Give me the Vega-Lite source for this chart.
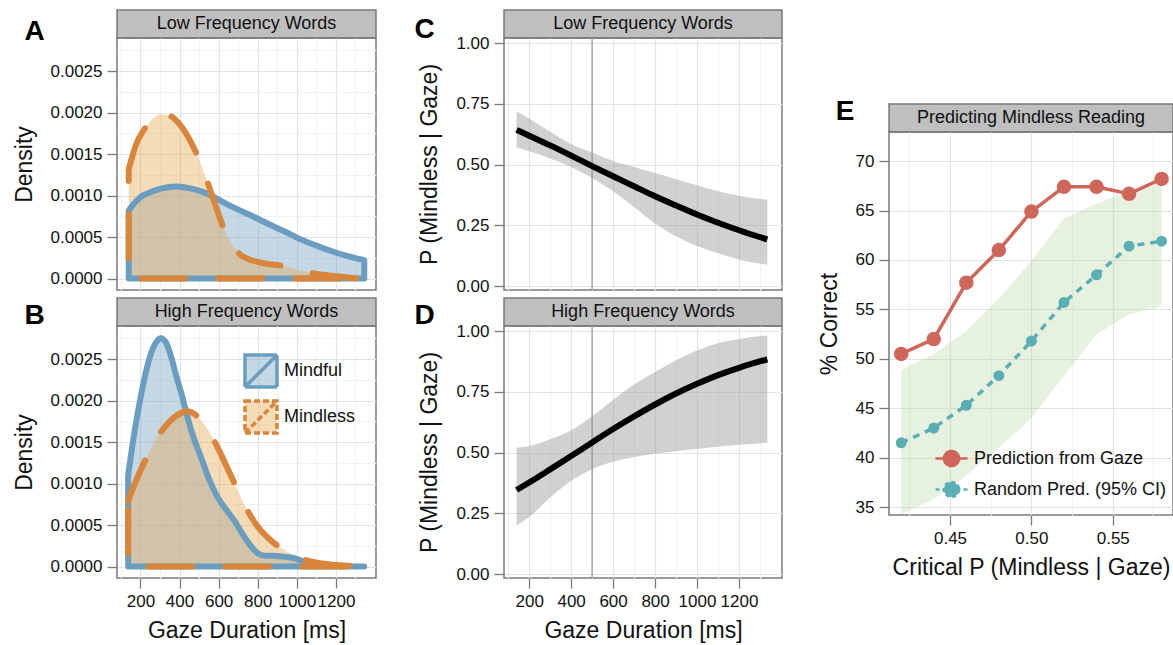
{
  "$schema": "https://vega.github.io/schema/vega-lite/v6.json",
  "padding": {"left": 12, "top": 9, "right": 0, "bottom": 0},
  "config": {
    "font": "Liberation Sans",
    "view": {"stroke": "#7a7a7a", "strokeWidth": 1.5},
    "axis": {"domain": false, "labelFontSize": 17, "labelColor": "#111", "titleFontSize": 23, "titleFontWeight": "normal", "titleColor": "#111", "tickColor": "#7a7a7a", "tickSize": 10, "tickWidth": 1.3, "labelPadding": 5, "titlePadding": 14, "gridWidth": 1.2, "labelFlush": false, "labelOverlap": false},
    "axisX": {"titlePadding": 10},
    "title": {"fontSize": 28, "fontWeight": "bold", "color": "#000"}
  },
  "datasets": {
    "densLow": [
      {"g":"Mindful","x":140,"d":0.00082},{"g":"Mindful","x":170,"d":0.00091},{"g":"Mindful","x":200,"d":0.00098},{"g":"Mindful","x":250,"d":0.00104},{"g":"Mindful","x":300,"d":0.00108},{"g":"Mindful","x":340,"d":0.0011},{"g":"Mindful","x":384,"d":0.00111},{"g":"Mindful","x":450,"d":0.00109},{"g":"Mindful","x":511,"d":0.00105},{"g":"Mindful","x":578,"d":0.00098},{"g":"Mindful","x":640,"d":0.0009},{"g":"Mindful","x":700,"d":0.00083},{"g":"Mindful","x":766,"d":0.00076},{"g":"Mindful","x":852,"d":0.00066},{"g":"Mindful","x":936,"d":0.00057},{"g":"Mindful","x":1021,"d":0.00047},{"g":"Mindful","x":1108,"d":0.00039},{"g":"Mindful","x":1190,"d":0.00032},{"g":"Mindful","x":1276,"d":0.00026},{"g":"Mindful","x":1345,"d":0.00022},
      {"g":"Mindless","x":140,"d":0.00132},{"g":"Mindless","x":180,"d":0.00163},{"g":"Mindless","x":220,"d":0.0018},{"g":"Mindless","x":260,"d":0.00192},{"g":"Mindless","x":305,"d":0.00198},{"g":"Mindless","x":350,"d":0.00196},{"g":"Mindless","x":400,"d":0.00186},{"g":"Mindless","x":450,"d":0.00168},{"g":"Mindless","x":495,"d":0.00146},{"g":"Mindless","x":546,"d":0.00114},{"g":"Mindless","x":590,"d":0.00084},{"g":"Mindless","x":630,"d":0.00058},{"g":"Mindless","x":670,"d":0.0004},{"g":"Mindless","x":715,"d":0.00028},{"g":"Mindless","x":770,"d":0.00022},{"g":"Mindless","x":817,"d":0.00019},{"g":"Mindless","x":870,"d":0.00017},{"g":"Mindless","x":936,"d":0.00015},{"g":"Mindless","x":1000,"d":0.00011},{"g":"Mindless","x":1090,"d":0.00006},{"g":"Mindless","x":1190,"d":0.00003},{"g":"Mindless","x":1270,"d":0.00001},{"g":"Mindless","x":1345,"d":0}
    ],
    "densHigh": [
      {"g":"Mindful","x":137,"d":0.0011},{"g":"Mindful","x":160,"d":0.00148},{"g":"Mindful","x":190,"d":0.0019},{"g":"Mindful","x":220,"d":0.00226},{"g":"Mindful","x":250,"d":0.00254},{"g":"Mindful","x":280,"d":0.0027},{"g":"Mindful","x":304,"d":0.00275},{"g":"Mindful","x":330,"d":0.0027},{"g":"Mindful","x":358,"d":0.00252},{"g":"Mindful","x":385,"d":0.00228},{"g":"Mindful","x":409,"d":0.00209},{"g":"Mindful","x":443,"d":0.00178},{"g":"Mindful","x":475,"d":0.00153},{"g":"Mindful","x":511,"d":0.00131},{"g":"Mindful","x":550,"d":0.00106},{"g":"Mindful","x":596,"d":0.00083},{"g":"Mindful","x":640,"d":0.00068},{"g":"Mindful","x":681,"d":0.00055},{"g":"Mindful","x":720,"d":0.0004},{"g":"Mindful","x":760,"d":0.00026},{"g":"Mindful","x":800,"d":0.00016},{"g":"Mindful","x":840,"d":0.00013},{"g":"Mindful","x":880,"d":0.00013},{"g":"Mindful","x":930,"d":0.00012},{"g":"Mindful","x":987,"d":0.0001},{"g":"Mindful","x":1040,"d":0.00006},{"g":"Mindful","x":1106,"d":0.00003},{"g":"Mindful","x":1200,"d":0.00001},{"g":"Mindful","x":1345,"d":0},
      {"g":"Mindless","x":137,"d":0.00079},{"g":"Mindless","x":180,"d":0.00105},{"g":"Mindless","x":239,"d":0.00135},{"g":"Mindless","x":270,"d":0.0015},{"g":"Mindless","x":307,"d":0.00163},{"g":"Mindless","x":350,"d":0.00175},{"g":"Mindless","x":392,"d":0.00183},{"g":"Mindless","x":443,"d":0.00187},{"g":"Mindless","x":480,"d":0.00183},{"g":"Mindless","x":511,"d":0.00176},{"g":"Mindless","x":550,"d":0.00163},{"g":"Mindless","x":596,"d":0.00143},{"g":"Mindless","x":640,"d":0.00121},{"g":"Mindless","x":681,"d":0.001},{"g":"Mindless","x":720,"d":0.0008},{"g":"Mindless","x":766,"d":0.0006},{"g":"Mindless","x":810,"d":0.00045},{"g":"Mindless","x":851,"d":0.00035},{"g":"Mindless","x":890,"d":0.00027},{"g":"Mindless","x":936,"d":0.0002},{"g":"Mindless","x":1000,"d":0.00012},{"g":"Mindless","x":1055,"d":0.00007},{"g":"Mindless","x":1120,"d":0.00004},{"g":"Mindless","x":1191,"d":0.00002},{"g":"Mindless","x":1260,"d":0.00001},{"g":"Mindless","x":1345,"d":0}
    ],
    "probLow": [
      {"x":140,"p":0.643,"lo":0.57,"hi":0.72},{"x":200,"p":0.619,"lo":0.555,"hi":0.69},{"x":300,"p":0.579,"lo":0.525,"hi":0.635},{"x":400,"p":0.537,"lo":0.49,"hi":0.585},{"x":500,"p":0.494,"lo":0.445,"hi":0.55},{"x":600,"p":0.452,"lo":0.39,"hi":0.515},{"x":700,"p":0.411,"lo":0.325,"hi":0.49},{"x":800,"p":0.37,"lo":0.258,"hi":0.465},{"x":900,"p":0.332,"lo":0.205,"hi":0.44},{"x":1000,"p":0.295,"lo":0.165,"hi":0.415},{"x":1100,"p":0.261,"lo":0.135,"hi":0.39},{"x":1200,"p":0.23,"lo":0.11,"hi":0.372},{"x":1335,"p":0.192,"lo":0.088,"hi":0.355}
    ],
    "probHigh": [
      {"x":140,"p":0.346,"lo":0.2,"hi":0.52},{"x":200,"p":0.377,"lo":0.235,"hi":0.527},{"x":300,"p":0.431,"lo":0.315,"hi":0.555},{"x":400,"p":0.486,"lo":0.384,"hi":0.592},{"x":500,"p":0.542,"lo":0.432,"hi":0.65},{"x":600,"p":0.597,"lo":0.462,"hi":0.717},{"x":700,"p":0.649,"lo":0.482,"hi":0.78},{"x":800,"p":0.698,"lo":0.495,"hi":0.832},{"x":900,"p":0.743,"lo":0.506,"hi":0.88},{"x":1000,"p":0.783,"lo":0.515,"hi":0.92},{"x":1100,"p":0.819,"lo":0.524,"hi":0.95},{"x":1200,"p":0.849,"lo":0.532,"hi":0.968},{"x":1335,"p":0.884,"lo":0.541,"hi":0.982}
    ],
    "vline": [{"x": 500}],
    "bandE": [
      {"crit":0.42,"lo":34.3,"hi":48.9},{"crit":0.44,"lo":35.8,"hi":50.5},{"crit":0.46,"lo":38.2,"hi":52.8},{"crit":0.48,"lo":41.0,"hi":56.1},{"crit":0.5,"lo":44.0,"hi":59.9},{"crit":0.52,"lo":48.3,"hi":64.2},{"crit":0.54,"lo":52.5,"hi":65.7},{"crit":0.56,"lo":54.5,"hi":67.0},{"crit":0.58,"lo":55.3,"hi":67.7}
    ],
    "predE": [
      {"crit":0.42,"series":"Prediction from Gaze","pct":50.5},{"crit":0.44,"series":"Prediction from Gaze","pct":52.0},{"crit":0.46,"series":"Prediction from Gaze","pct":57.7},{"crit":0.48,"series":"Prediction from Gaze","pct":61.0},{"crit":0.5,"series":"Prediction from Gaze","pct":64.9},{"crit":0.52,"series":"Prediction from Gaze","pct":67.4},{"crit":0.54,"series":"Prediction from Gaze","pct":67.4},{"crit":0.56,"series":"Prediction from Gaze","pct":66.7},{"crit":0.58,"series":"Prediction from Gaze","pct":68.2},
      {"crit":0.42,"series":"Random Pred. (95% CI)","pct":41.5},{"crit":0.44,"series":"Random Pred. (95% CI)","pct":43.0},{"crit":0.46,"series":"Random Pred. (95% CI)","pct":45.3},{"crit":0.48,"series":"Random Pred. (95% CI)","pct":48.3},{"crit":0.5,"series":"Random Pred. (95% CI)","pct":51.8},{"crit":0.52,"series":"Random Pred. (95% CI)","pct":55.7},{"crit":0.54,"series":"Random Pred. (95% CI)","pct":58.5},{"crit":0.56,"series":"Random Pred. (95% CI)","pct":61.4},{"crit":0.58,"series":"Random Pred. (95% CI)","pct":61.9}
    ],
    "stripLow": [{"label": "Low Frequency Words"}],
    "stripHigh": [{"label": "High Frequency Words"}],
    "stripE": [{"label": "Predicting Mindless Reading"}],
    "blank": [{"label": ""}]
  },
  "resolve": {"scale": {"fill": "independent", "color": "independent"}, "legend": {"fill": "independent", "color": "independent"}},
  "spacing": 34,
  "bounds": "full",
  "hconcat": [
    {
      "spacing": 36,
      "bounds": "full",
      "resolve": {"scale": {"fill": "independent"}, "legend": {"fill": "independent"}},
      "hconcat": [
        {
          "vconcat": [
            {"width": 259, "height": 28, "data": {"name": "stripLow"}, "mark": {"type": "text", "fontSize": 18, "color": "#111"}, "encoding": {"text": {"field": "label"}}, "view": {"fill": "#bfbfbf", "stroke": "#7a7a7a", "strokeWidth": 1.5},
             "title": {"text": "A", "orient": "left", "angle": 0, "align": "right", "baseline": "alphabetic", "anchor": "middle", "offset": 52, "dy": 16}},
            {"width": 259, "height": 252, "data": {"name": "densLow"},
             "encoding": {
               "x": {"field": "x", "type": "quantitative", "scale": {"domain": [80, 1405], "nice": false, "zero": false},
                     "axis": {"values": [100,200,300,400,500,600,700,800,900,1000,1100,1200,1300], "labels": false, "ticks": false, "title": null,
                              "gridColor": {"condition": {"test": "datum.value % 200 === 0", "value": "#e3e3e3"}, "value": "#f2f2f2"}}},
               "y": {"field": "d", "type": "quantitative", "stack": null, "scale": {"domain": [-0.000138, 0.002898], "nice": false, "zero": false},
                     "axis": {"values": [0,0.00025,0.0005,0.00075,0.001,0.00125,0.0015,0.00175,0.002,0.00225,0.0025,0.00275], "format": ".4f", "title": "Density",
                              "labelExpr": "round(datum.value*20000) % 10 === 0 ? datum.label : ''",
                              "tickOpacity": {"condition": {"test": "round(datum.value*20000) % 10 === 0", "value": 1}, "value": 0},
                              "gridColor": {"condition": {"test": "round(datum.value*20000) % 10 === 0", "value": "#e3e3e3"}, "value": "#f2f2f2"}}},
               "y2": {"datum": 0}
             },
             "layer": [
               {"mark": {"type": "area", "interpolate": "monotone", "fillOpacity": 0.4, "strokeWidth": 0},
                "encoding": {"fill": {"field": "g", "type": "nominal", "scale": {"domain": ["Mindful", "Mindless"], "range": ["#6b9dc0", "#e6a74d"]}, "legend": null}}},
               {"transform": [{"filter": "datum.g === 'Mindful'"}],
                "mark": {"type": "area", "interpolate": "monotone", "fill": "#ffffff", "fillOpacity": 0, "stroke": "#6b9dc0", "strokeWidth": 6, "strokeCap": "round", "strokeJoin": "round"}},
               {"transform": [{"filter": "datum.g === 'Mindless'"}],
                "mark": {"type": "area", "interpolate": "monotone", "fill": "#ffffff", "fillOpacity": 0, "stroke": "#d9853b", "strokeWidth": 6, "strokeCap": "round", "strokeJoin": "round", "strokeDash": [44, 33]}}
             ]},
            {"width": 259, "height": 8, "data": {"name": "blank"}, "mark": {"type": "text"}, "encoding": {"text": {"field": "label"}}, "view": {"stroke": null}},
            {"width": 259, "height": 28, "data": {"name": "stripHigh"}, "mark": {"type": "text", "fontSize": 18, "color": "#111"}, "encoding": {"text": {"field": "label"}}, "view": {"fill": "#bfbfbf", "stroke": "#7a7a7a", "strokeWidth": 1.5},
             "title": {"text": "B", "orient": "left", "angle": 0, "align": "right", "baseline": "alphabetic", "anchor": "middle", "offset": 52, "dy": 12}},
            {"width": 259, "height": 252, "data": {"name": "densHigh"},
             "encoding": {
               "x": {"field": "x", "type": "quantitative", "scale": {"domain": [80, 1405], "nice": false, "zero": false},
                     "axis": {"values": [100,200,300,400,500,600,700,800,900,1000,1100,1200,1300], "format": "d", "title": "Gaze Duration [ms]",
                              "labelExpr": "datum.value % 200 === 0 ? datum.label : ''",
                              "tickOpacity": {"condition": {"test": "datum.value % 200 === 0", "value": 1}, "value": 0},
                              "gridColor": {"condition": {"test": "datum.value % 200 === 0", "value": "#e3e3e3"}, "value": "#f2f2f2"}}},
               "y": {"field": "d", "type": "quantitative", "stack": null, "scale": {"domain": [-0.000138, 0.002898], "nice": false, "zero": false},
                     "axis": {"values": [0,0.00025,0.0005,0.00075,0.001,0.00125,0.0015,0.00175,0.002,0.00225,0.0025,0.00275], "format": ".4f", "title": "Density",
                              "labelExpr": "round(datum.value*20000) % 10 === 0 ? datum.label : ''",
                              "tickOpacity": {"condition": {"test": "round(datum.value*20000) % 10 === 0", "value": 1}, "value": 0},
                              "gridColor": {"condition": {"test": "round(datum.value*20000) % 10 === 0", "value": "#e3e3e3"}, "value": "#f2f2f2"}}},
               "y2": {"datum": 0}
             },
             "layer": [
               {"mark": {"type": "area", "interpolate": "monotone", "fillOpacity": 0.4, "strokeWidth": 0},
                "encoding": {"fill": {"field": "g", "type": "nominal", "scale": {"domain": ["Mindful", "Mindless"], "range": ["#6b9dc0", "#e6a74d"]},
                        "legend": {"orient": "none", "legendX": 126, "legendY": 27, "title": null, "padding": 0,
                                   "symbolType": "M-1,-1H1V1H-1Z M-1,1L1,-1", "symbolSize": 1024, "symbolStrokeWidth": 3.5,
                                   "labelFontSize": 18, "labelColor": "#111", "labelOffset": 5, "rowPadding": 0,
                                   "encode": {"symbols": {"update": {"fillOpacity": {"value": 0.4}, "opacity": {"value": 1},
                                     "stroke": {"signal": "datum.value === 'Mindful' ? '#6b9dc0' : '#d9853b'"},
                                     "strokeDash": {"signal": "datum.value === 'Mindful' ? [1,0] : [6,3]"},
                                     "strokeWidth": {"value": 3.5}}}}}}}},
               {"transform": [{"filter": "datum.g === 'Mindful'"}],
                "mark": {"type": "area", "interpolate": "monotone", "fill": "#ffffff", "fillOpacity": 0, "stroke": "#6b9dc0", "strokeWidth": 6, "strokeCap": "round", "strokeJoin": "round"}},
               {"transform": [{"filter": "datum.g === 'Mindless'"}],
                "mark": {"type": "area", "interpolate": "monotone", "fill": "#ffffff", "fillOpacity": 0, "stroke": "#d9853b", "strokeWidth": 6, "strokeCap": "round", "strokeJoin": "round", "strokeDash": [44, 33]}}
             ]}
          ],
          "spacing": 0,
          "bounds": "flush",
          "resolve": {"scale": {"fill": "independent"}, "legend": {"fill": "independent"}}
        },
        {
          "vconcat": [
            {"width": 278, "height": 28, "data": {"name": "stripLow"}, "mark": {"type": "text", "fontSize": 18, "color": "#111"}, "encoding": {"text": {"field": "label"}}, "view": {"fill": "#bfbfbf", "stroke": "#7a7a7a", "strokeWidth": 1.5},
             "title": {"text": "C", "orient": "left", "angle": 0, "align": "right", "baseline": "alphabetic", "anchor": "middle", "offset": 49, "dy": 14}},
            {"width": 278, "height": 252,
             "encoding": {"x": {"field": "x", "type": "quantitative", "scale": {"domain": [80, 1405], "nice": false, "zero": false},
                     "axis": {"values": [100,200,300,400,500,600,700,800,900,1000,1100,1200,1300], "labels": false, "ticks": false, "title": null,
                              "gridColor": {"condition": {"test": "datum.value % 200 === 0", "value": "#e3e3e3"}, "value": "#f2f2f2"}}}},
             "layer": [
               {"data": {"name": "vline"}, "mark": {"type": "rule", "color": "#a3a3a3", "strokeWidth": 1.5}, "encoding": {}},
               {"data": {"name": "probLow"}, "mark": {"type": "area", "color": "#9a9a9a", "opacity": 0.45, "interpolate": "monotone"},
                "encoding": {
                  "y": {"field": "lo", "type": "quantitative", "scale": {"domain": [-0.016, 1.021], "nice": false, "zero": false},
                        "axis": {"values": [0,0.125,0.25,0.375,0.5,0.625,0.75,0.875,1], "format": ".2f", "title": "P (Mindless | Gaze)",
                                 "labelExpr": "round(datum.value*8) % 2 === 0 ? datum.label : ''",
                                 "tickOpacity": {"condition": {"test": "round(datum.value*8) % 2 === 0", "value": 1}, "value": 0},
                                 "gridColor": {"condition": {"test": "round(datum.value*8) % 2 === 0", "value": "#e3e3e3"}, "value": "#f2f2f2"}}},
                  "y2": {"field": "hi"}}},
               {"data": {"name": "probLow"}, "mark": {"type": "line", "color": "#000", "strokeWidth": 6, "interpolate": "monotone"},
                "encoding": {"y": {"field": "p", "type": "quantitative"}}}
             ]},
            {"width": 278, "height": 8, "data": {"name": "blank"}, "mark": {"type": "text"}, "encoding": {"text": {"field": "label"}}, "view": {"stroke": null}},
            {"width": 278, "height": 28, "data": {"name": "stripHigh"}, "mark": {"type": "text", "fontSize": 18, "color": "#111"}, "encoding": {"text": {"field": "label"}}, "view": {"fill": "#bfbfbf", "stroke": "#7a7a7a", "strokeWidth": 1.5},
             "title": {"text": "D", "orient": "left", "angle": 0, "align": "right", "baseline": "alphabetic", "anchor": "middle", "offset": 49, "dy": 12}},
            {"width": 278, "height": 252,
             "encoding": {"x": {"field": "x", "type": "quantitative", "scale": {"domain": [80, 1405], "nice": false, "zero": false},
                     "axis": {"values": [100,200,300,400,500,600,700,800,900,1000,1100,1200,1300], "format": "d", "title": "Gaze Duration [ms]",
                              "labelExpr": "datum.value % 200 === 0 ? datum.label : ''",
                              "tickOpacity": {"condition": {"test": "datum.value % 200 === 0", "value": 1}, "value": 0},
                              "gridColor": {"condition": {"test": "datum.value % 200 === 0", "value": "#e3e3e3"}, "value": "#f2f2f2"}}}},
             "layer": [
               {"data": {"name": "vline"}, "mark": {"type": "rule", "color": "#a3a3a3", "strokeWidth": 1.5}, "encoding": {}},
               {"data": {"name": "probHigh"}, "mark": {"type": "area", "color": "#9a9a9a", "opacity": 0.45, "interpolate": "monotone"},
                "encoding": {
                  "y": {"field": "lo", "type": "quantitative", "scale": {"domain": [-0.016, 1.021], "nice": false, "zero": false},
                        "axis": {"values": [0,0.125,0.25,0.375,0.5,0.625,0.75,0.875,1], "format": ".2f", "title": "P (Mindless | Gaze)",
                                 "labelExpr": "round(datum.value*8) % 2 === 0 ? datum.label : ''",
                                 "tickOpacity": {"condition": {"test": "round(datum.value*8) % 2 === 0", "value": 1}, "value": 0},
                                 "gridColor": {"condition": {"test": "round(datum.value*8) % 2 === 0", "value": "#e3e3e3"}, "value": "#f2f2f2"}}},
                  "y2": {"field": "hi"}}},
               {"data": {"name": "probHigh"}, "mark": {"type": "line", "color": "#000", "strokeWidth": 6, "interpolate": "monotone"},
                "encoding": {"y": {"field": "p", "type": "quantitative"}}}
             ]}
          ],
          "spacing": 0,
          "bounds": "flush"
        }
      ]
    },
    {
      "vconcat": [
        {"width": 284, "height": 94, "data": {"name": "blank"}, "mark": {"type": "text"}, "encoding": {"text": {"field": "label"}}, "view": {"stroke": null}},
        {"width": 284, "height": 28, "data": {"name": "stripE"}, "mark": {"type": "text", "fontSize": 18, "color": "#111"}, "encoding": {"text": {"field": "label"}}, "view": {"fill": "#bfbfbf", "stroke": "#7a7a7a", "strokeWidth": 1.5},
         "title": {"text": "E", "orient": "left", "angle": 0, "align": "right", "baseline": "alphabetic", "anchor": "middle", "offset": 16, "dy": 2}},
        {"width": 284, "height": 383,
         "layer": [
           {"data": {"name": "bandE"}, "mark": {"type": "area", "color": "#b5d49a", "opacity": 0.32},
            "encoding": {
              "x": {"field": "crit", "type": "quantitative", "scale": {"domain": [0.4125, 0.587], "nice": false, "zero": false},
                    "axis": {"values": [0.425,0.45,0.475,0.5,0.525,0.55,0.575], "format": ".2f", "title": "Critical P (Mindless | Gaze)",
                             "labelExpr": "round(datum.value*40) % 2 === 0 ? datum.label : ''",
                             "tickOpacity": {"condition": {"test": "round(datum.value*40) % 2 === 0", "value": 1}, "value": 0},
                             "gridColor": {"condition": {"test": "round(datum.value*40) % 2 === 0", "value": "#e3e3e3"}, "value": "#f2f2f2"}}},
              "y": {"field": "lo", "type": "quantitative", "scale": {"domain": [34.2, 72.95], "nice": false, "zero": false},
                    "axis": {"values": [35,37.5,40,42.5,45,47.5,50,52.5,55,57.5,60,62.5,65,67.5,70,72.5], "format": "d", "title": "% Correct",
                             "labelExpr": "round(datum.value*2) % 10 === 0 ? datum.label : ''",
                             "tickOpacity": {"condition": {"test": "round(datum.value*2) % 10 === 0", "value": 1}, "value": 0},
                             "gridColor": {"condition": {"test": "round(datum.value*2) % 10 === 0", "value": "#e3e3e3"}, "value": "#f2f2f2"}}},
              "y2": {"field": "hi"}}},
           {"data": {"name": "predE"}, "mark": {"type": "line", "strokeWidth": 3.5},
            "encoding": {
              "x": {"field": "crit", "type": "quantitative"},
              "y": {"field": "pct", "type": "quantitative"},
              "color": {"field": "series", "type": "nominal", "scale": {"domain": ["Prediction from Gaze", "Random Pred. (95% CI)"], "range": ["#cf665a", "#5aafb5"]},
                        "legend": {"orient": "none", "legendX": 45, "legendY": 309, "title": null, "padding": 0,
                                   "symbolType": "M-1,0H1M0.47,0A0.47,0.47,0,1,1,-0.47,0A0.47,0.47,0,1,1,0.47,0Z", "symbolSize": 1024, "symbolStrokeWidth": 2.5,
                                   "labelFontSize": 18, "labelColor": "#111", "labelOffset": 5, "rowPadding": 0, "labelLimit": 400,
                                   "encode": {"symbols": {"update": {
                                     "fill": {"signal": "datum.value === 'Prediction from Gaze' ? '#cf665a' : '#5aafb5'"},
                                     "stroke": {"signal": "datum.value === 'Prediction from Gaze' ? '#cf665a' : '#5aafb5'"},
                                     "strokeDash": {"signal": "datum.value === 'Prediction from Gaze' ? [1,0] : [4,3]"},
                                     "fillOpacity": {"value": 1}, "opacity": {"value": 1}}}}}},
              "strokeDash": {"field": "series", "type": "nominal", "scale": {"domain": ["Prediction from Gaze", "Random Pred. (95% CI)"], "range": [[1, 0], [7, 6]]}, "legend": null}}},
           {"data": {"name": "predE"}, "mark": {"type": "point", "filled": true, "opacity": 1},
            "encoding": {
              "x": {"field": "crit", "type": "quantitative"},
              "y": {"field": "pct", "type": "quantitative"},
              "color": {"field": "series", "type": "nominal", "legend": null},
              "size": {"condition": {"test": "datum.series === 'Prediction from Gaze'", "value": 210}, "value": 120}}}
         ]}
      ],
      "spacing": 0,
      "bounds": "flush",
      "resolve": {"scale": {"color": "independent"}, "legend": {"color": "independent"}}
    }
  ]
}
